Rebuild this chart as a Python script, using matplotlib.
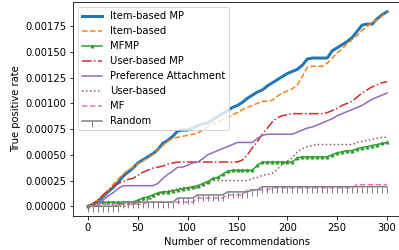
import numpy as np
import matplotlib
matplotlib.use("Agg")
import matplotlib.pyplot as plt

# number of recommendations (sampled every 5)
n_recs = list(range(0, 301, 5))

# true positive rate, in units of 1e-5
item_mp = [0, 2, 5, 9, 14, 18, 23, 29, 33, 37, 42, 45, 48, 51, 55, 61, 64, 68, 73, 74,
           74, 76, 78, 80, 81, 84, 87, 90, 93, 96, 98, 101, 105, 108, 111, 113, 117, 120, 123, 126,
           129, 131, 133, 137, 143, 144, 144, 144, 144, 151, 154, 157, 160, 164, 170, 176, 177, 177, 182, 186,
           189]
item_based = [0, 3, 6, 10, 15, 21, 26, 31, 35, 38, 41, 44, 47, 50, 55, 59, 63, 66, 67, 68,
              69, 70, 71, 74, 77, 80, 82, 84, 86, 89, 91, 94, 96, 98, 100, 102, 102, 103, 107, 110,
              112, 114, 118, 126, 135, 136, 136, 136, 139, 144, 149, 153, 158, 162, 166, 171, 175, 178, 181, 185,
              189]
mfmp = [0, 2, 3, 4, 4, 4, 4, 4, 4, 4, 6, 8, 9, 11, 13, 14, 14, 15, 16, 17,
        18, 19, 20, 22, 24, 27, 28, 31, 34, 35, 35, 35, 35, 35, 40, 43, 43, 43, 43, 43,
        43, 43, 47, 48, 48, 48, 48, 48, 48, 50, 52, 53, 54, 54, 56, 57, 58, 59, 60, 61,
        62]
user_mp = [0, 2, 6, 11, 15, 19, 22, 24, 26, 27, 30, 33, 35, 37, 38, 39, 41, 42, 43, 43,
           43, 43, 43, 43, 43, 43, 43, 43, 43, 43, 43, 45, 50, 57, 63, 70, 76, 82, 86, 88,
           89, 90, 90, 90, 90, 90, 90, 90, 91, 93, 95, 98, 100, 102, 106, 110, 113, 116, 118, 120,
           121]
pref_attach = [0, 0, 2, 6, 10, 13, 17, 20, 20, 20, 20, 20, 20, 20, 22, 27, 31, 34, 38, 38,
               40, 42, 43, 46, 50, 52, 54, 56, 58, 60, 62, 62, 62, 62, 66, 69, 70, 70, 70, 70,
               70, 70, 72, 74, 76, 77, 79, 81, 83, 85, 88, 90, 92, 94, 96, 98, 101, 104, 106, 108,
               110]
user_based = [0, 0, 0, 0, 0, 0, 0, 0, 0, 2, 4, 6, 6, 8, 12, 14, 15, 16, 17, 18,
              18, 18, 18, 20, 23, 25, 25, 25, 25, 25, 25, 25, 25, 27, 28, 30, 31, 32, 36, 41,
              44, 47, 53, 56, 58, 59, 60, 60, 60, 60, 60, 60, 60, 60, 62, 63, 64, 65, 66, 67,
              67]
mf = [0, 1, 2, 2, 2, 2, 2, 2, 2, 2, 2, 2, 4, 4, 4, 4, 4, 4, 4, 4,
      4, 4, 8, 8, 8, 8, 8, 8, 11, 11, 11, 11, 16, 16, 16, 16, 16, 18, 18, 18,
      18, 18, 18, 18, 18, 18, 18, 18, 18, 18, 18, 18, 18, 18, 21, 21, 21, 21, 21, 21,
      21]
random_rec = [0, 0, 0, 0, 0, 0, 0, 4, 4, 4, 4, 4, 4, 4, 4, 4, 4, 4, 8, 8,
              8, 8, 11, 11, 11, 11, 11, 11, 14, 14, 14, 14, 14, 16, 16, 19, 19, 19, 19, 19,
              19, 19, 19, 19, 19, 19, 19, 19, 19, 19, 19, 19, 19, 19, 19, 19, 19, 19, 19, 19,
              19]

scale = 1e-5

fig = plt.figure(figsize=(399 / 72, 250 / 72), dpi=72)
ax = fig.add_axes([73 / 399, 34 / 250, 329 / 399, 214 / 250])

ax.plot(n_recs, np.array(item_mp) * scale, color="C0", lw=3, label="Item-based MP")
ax.plot(n_recs, np.array(item_based) * scale, color="C1", ls="--", label="Item-based")
ax.plot(n_recs, np.array(mfmp) * scale, color="C2", marker="^", ms=3, label="MFMP")
ax.plot(n_recs, np.array(user_mp) * scale, color="C3", ls="-.", label="User-based MP")
ax.plot(n_recs, np.array(pref_attach) * scale, color="C4", label="Preference Attachment")
ax.plot(n_recs, np.array(user_based) * scale, color="C5", ls=":", label="User-based")
ax.plot(n_recs, np.array(mf) * scale, color="C6", ls="--", label="MF")
ax.plot(n_recs, np.array(random_rec) * scale, color="C7", marker=3, ms=6, label="Random")

ax.set_xlabel("Number of recommendations")
ax.set_ylabel("True positive rate")
ax.legend(loc="upper left")

fig.savefig("out.png", dpi=72)
